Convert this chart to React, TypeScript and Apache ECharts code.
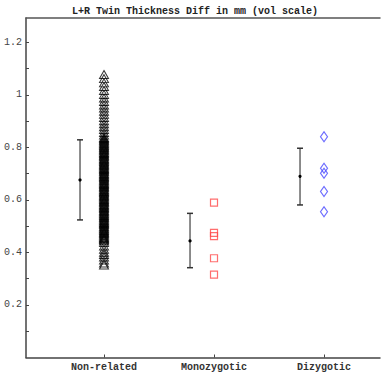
import React, { useEffect, useRef } from "react";
import * as echarts from "echarts";

const categories = ["Non-related", "Monozygotic", "Dizygotic"];

const nonRelated = [
  1.078, 1.062, 1.046, 1.032, 1.017, 1.002, 0.988, 0.975, 0.962, 0.95, 0.938, 0.926, 0.914, 0.902,
  0.89, 0.879, 0.868, 0.857, 0.847,
  0.838, 0.834, 0.829, 0.825, 0.821, 0.816, 0.812, 0.807, 0.803, 0.799, 0.794, 0.79, 0.786, 0.781,
  0.777, 0.772, 0.768, 0.764, 0.759, 0.755, 0.751, 0.746, 0.742, 0.737, 0.733, 0.729, 0.724, 0.72,
  0.716, 0.711, 0.707, 0.702, 0.698, 0.694, 0.689, 0.685, 0.681, 0.676, 0.672, 0.667, 0.663, 0.659,
  0.654, 0.65, 0.646, 0.641, 0.637, 0.632, 0.628, 0.624, 0.619, 0.615, 0.611, 0.606, 0.602, 0.597,
  0.593, 0.589, 0.584, 0.58, 0.576, 0.571, 0.567, 0.562, 0.558, 0.554, 0.549, 0.545, 0.541, 0.536,
  0.532, 0.527, 0.523, 0.519, 0.514, 0.51, 0.506, 0.501, 0.497, 0.492, 0.488, 0.484, 0.479, 0.475,
  0.471, 0.466, 0.462, 0.457, 0.453, 0.449, 0.445,
  0.438, 0.425, 0.412, 0.401, 0.392, 0.383, 0.371, 0.36, 0.352,
];
const monozygotic = [0.59, 0.475, 0.462, 0.378, 0.316];
const dizygotic = [0.841, 0.721, 0.702, 0.632, 0.555];

const groupMeans = [0.676, 0.444, 0.69];
const groupUpper = [0.829, 0.549, 0.797];
const groupLower = [0.524, 0.342, 0.581];

const yLabelValues = [0.2, 0.4, 0.6, 0.8, 1.0, 1.2];
const yTickValues = [0.1, 0.2, 0.3, 0.4, 0.5, 0.6, 0.7, 0.8, 0.9, 1.0, 1.1, 1.2];
const xPositions = [1, 2, 3];
const errOffset = -0.218;

export default function App() {
  const ref = useRef<HTMLDivElement>(null);
  useEffect(() => {
    document.body.style.margin = "0";
    const chart = echarts.init(ref.current!, null, { renderer: "svg" });
    const mono = "'Liberation Mono', 'DejaVu Sans Mono', monospace";
    const errData = xPositions.map((x, i) => [x + errOffset, groupMeans[i], groupLower[i], groupUpper[i]]);
    chart.setOption({
      animation: false,
      backgroundColor: "#ffffff",
      title: {
        text: "L+R Twin Thickness Diff in mm (vol scale)",
        left: 190,
        top: 1,
        textAlign: "center",
        textStyle: { fontFamily: mono, fontSize: 10, fontWeight: "bold", color: "#222" },
      },
      grid: { left: 26, right: 1, top: 18, bottom: 18.5 },
      xAxis: [
        {
          type: "value",
          min: 0.2909,
          max: 3.509,
          axisLine: { show: true, lineStyle: { color: "#444", width: 1.5 } },
          axisTick: { show: true, inside: true, length: 3, customValues: xPositions, lineStyle: { color: "#444" } },
          axisLabel: {
            customValues: xPositions,
            formatter: (v: number) => categories[Math.round(v) - 1] ?? "",
            fontFamily: mono,
            fontSize: 10,
            fontWeight: "bold",
            color: "#333",
            margin: 5,
          },
          splitLine: { show: false },
        },
        {
          type: "value",
          position: "top",
          min: 0.2909,
          max: 3.509,
          axisLine: { show: true, lineStyle: { color: "#555", width: 1.5 } },
          axisTick: { show: false },
          axisLabel: { show: false },
          splitLine: { show: false },
        },
      ],
      yAxis: {
        type: "value",
        min: 0,
        max: 1.293,
        axisLine: { show: true, lineStyle: { color: "#444", width: 1.5 } },
        axisTick: { show: true, inside: true, length: 3, customValues: yTickValues, lineStyle: { color: "#444" } },
        axisLabel: {
          customValues: yLabelValues,
          formatter: (v: number) => String(Math.round(v * 10) / 10),
          fontFamily: mono,
          fontSize: 10,
          color: "#444",
          margin: 4,
        },
        splitLine: { show: false },
      },
      series: [
        {
          type: "scatter",
          symbol: "triangle",
          symbolSize: [9, 8],
          data: nonRelated.map((v) => [xPositions[0], v]),
          itemStyle: { color: "transparent", borderColor: "#000", borderWidth: 1 },
        },
        {
          type: "scatter",
          symbol: "rect",
          symbolSize: 7,
          data: monozygotic.map((v) => [xPositions[1], v]),
          itemStyle: { color: "transparent", borderColor: "#ff4a4a", borderWidth: 1.2 },
        },
        {
          type: "scatter",
          symbol: "diamond",
          symbolSize: [7, 10],
          data: dizygotic.map((v) => [xPositions[2], v]),
          itemStyle: { color: "transparent", borderColor: "#4a4aff", borderWidth: 1.2 },
        },
        {
          type: "custom",
          data: errData,
          renderItem: (params: any, api: any) => {
            const x = api.value(0);
            const top = api.coord([x, api.value(3)]);
            const bot = api.coord([x, api.value(2)]);
            const mid = api.coord([x, api.value(1)]);
            return {
              type: "group",
              children: [
                { type: "line", shape: { x1: top[0], y1: top[1], x2: bot[0], y2: bot[1] }, style: { stroke: "#666", lineWidth: 1.5 } },
                { type: "line", shape: { x1: top[0] - 3, y1: top[1], x2: top[0] + 3, y2: top[1] }, style: { stroke: "#333", lineWidth: 1.5 } },
                { type: "line", shape: { x1: bot[0] - 3, y1: bot[1], x2: bot[0] + 3, y2: bot[1] }, style: { stroke: "#333", lineWidth: 1.5 } },
                { type: "circle", shape: { cx: mid[0], cy: mid[1], r: 1.6 }, style: { fill: "#000" } },
              ],
            };
          },
        },
      ],
    });
    return () => chart.dispose();
  }, []);
  return <div ref={ref} style={{ width: 381, height: 376 }} />;
}
